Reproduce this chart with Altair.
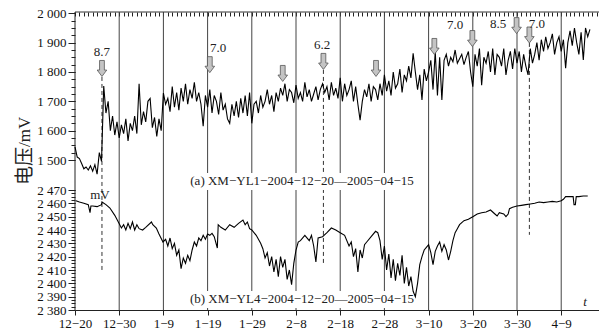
import json
import pandas as pd
import altair as alt

FONT = "Liberation Serif"

# x axis: days since 2004-12-20
tick_days = [0, 10, 20, 30, 40, 50, 60, 70, 80, 90, 100, 110]
tick_labels = ["12−20", "12−30", "1−9", "1−19", "1−29", "2−8", "2−18",
               "2−28", "3−10", "3−20", "3−30", "4−9"]
vline_days = [10, 20, 30, 40, 50, 60, 70, 80, 90, 100, 110]

# (a) XM-YL1, sampled every half day from 12-20
top_vals = [
    1545, 1510, 1505, 1488, 1470, 1476, 1466, 1480, 1462, 1484,
    1452, 1525, 1495, 1752, 1660, 1700, 1600, 1650, 1585, 1630,
    1575, 1620, 1590, 1640, 1565, 1625, 1600, 1650, 1590, 1760,
    1620, 1665, 1630, 1700, 1710, 1610, 1645, 1580, 1640, 1600,
    1728, 1690, 1710, 1665, 1750, 1680, 1730, 1670, 1745, 1700,
    1760, 1690, 1740, 1710, 1765, 1700, 1730, 1690, 1615, 1720,
    1680, 1740, 1660, 1720, 1700, 1655, 1730, 1670, 1690, 1640,
    1625, 1690, 1650, 1700, 1645, 1710, 1660, 1720, 1650, 1730,
    1625, 1690, 1700, 1660, 1720, 1680, 1700, 1740, 1690, 1720,
    1665, 1730, 1700, 1745, 1720, 1760, 1700, 1740, 1730, 1695,
    1755, 1710, 1730, 1700, 1765, 1715, 1740, 1700, 1725, 1750,
    1705, 1740, 1760, 1730, 1750, 1705, 1765, 1720, 1745, 1710,
    1780, 1700, 1760, 1720, 1740, 1770, 1700, 1750, 1690, 1636,
    1700, 1740, 1715, 1760, 1700, 1750, 1740, 1705, 1760, 1720,
    1790, 1735, 1770, 1720, 1800, 1745, 1760, 1810, 1730, 1790,
    1770, 1820, 1780, 1864, 1800, 1740, 1790, 1705, 1810, 1770,
    1800, 1840, 1740, 1870, 1720, 1850, 1705, 1840, 1860, 1820,
    1850, 1835, 1875, 1830, 1845, 1860, 1825, 1850, 1870, 1800,
    1750, 1860, 1820, 1880, 1755, 1850, 1830, 1870, 1800, 1880,
    1790, 1860, 1850, 1820, 1880, 1790, 1840, 1870, 1810, 1880,
    1830, 1870, 1800, 1860, 1820, 1790, 1880, 1830, 1860, 1900,
    1840, 1910, 1870, 1920, 1880, 1900, 1930, 1860, 1900, 1920,
    1870, 1910, 1813, 1900, 1940, 1890, 1950, 1900, 1860, 1935,
    1841, 1950, 1920, 1945,
]
top_days = [i * 0.5 for i in range(len(top_vals))]

# (b) XM-YL4
bottom_days = [
    0.2, 1, 2, 3, 3.4, 3.6, 4, 5, 6, 6.1, 7, 7.9, 9, 9.8, 10.5, 11, 11.5, 12,
    12.5, 13, 13.5, 14, 14.5, 15.3, 16, 17.3, 17.6, 18.4, 19, 19.9, 20.5, 21,
    21.5, 22, 22.5, 23, 23.5, 24, 24.5, 25, 25.5, 26, 26.5, 27, 27.5, 28, 28.5,
    29, 29.5, 30, 30.5, 31, 31.5, 32.2, 32.4, 33, 34, 35, 36, 37, 38, 38.5, 39,
    39.5, 40, 41, 42, 42.5, 43, 43.5, 44, 44.5, 45, 45.5, 46, 46.5, 47, 47.5,
    48, 48.5, 49, 49.5, 50, 50.5, 51, 52, 53, 53.5, 54, 54.5, 55, 56, 57, 58,
    59, 60, 61, 62, 62.5, 63, 63.5, 64, 64.5, 65, 65.5, 66, 67, 68, 68.5, 69,
    69.5, 70, 70.5, 71, 71.5, 72, 72.5, 73, 73.5, 74, 74.5, 75, 75.5, 76,
    76.5, 77, 77.5, 78, 78.5, 79, 79.5, 80, 80.5, 81, 81.5, 82, 82.5, 83,
    83.5, 84, 84.5, 85, 85.5, 86, 86.5, 87, 88, 89, 90, 91, 92, 93, 94, 95,
    95.5, 96, 97, 97.5, 98, 98.3, 99, 100, 101, 102, 103, 104, 105, 106, 107,
    108, 109, 110, 110.5, 111, 112, 112.7, 112.9, 113.2, 113.4, 114, 115, 116,
]
bottom_vals = [
    2462, 2461, 2460, 2459, 2453, 2458, 2458, 2457.5, 2459, 2461, 2459, 2456.5,
    2451, 2446, 2441.5, 2444, 2440, 2445, 2441, 2446, 2440, 2444, 2441, 2440,
    2442, 2446, 2444, 2441.5, 2437, 2431, 2433, 2428, 2434, 2426, 2430, 2421,
    2425, 2411, 2419, 2415, 2421, 2417, 2425, 2431, 2428, 2434, 2432, 2436,
    2433, 2437, 2436, 2437.5, 2435, 2426.5, 2444, 2442, 2440, 2444, 2442, 2445,
    2447.5, 2444, 2446, 2441, 2440, 2436, 2430, 2426, 2419, 2423, 2413, 2420,
    2408.5, 2418, 2405, 2420, 2412, 2418, 2403, 2410, 2399, 2415, 2425, 2431,
    2432, 2436, 2432, 2436, 2428, 2416, 2434, 2435, 2438, 2441.5, 2440, 2438,
    2436, 2428, 2431, 2420, 2426, 2408.5, 2425, 2419, 2429, 2431, 2435, 2439,
    2438, 2432, 2418, 2428, 2410, 2422, 2404, 2418, 2402, 2415, 2406, 2421,
    2400, 2412, 2398, 2405, 2394, 2390, 2400, 2414, 2420, 2425, 2427, 2429,
    2423, 2414, 2424, 2428, 2431, 2424, 2429, 2425, 2417.5, 2424, 2432, 2438,
    2441, 2444, 2447, 2448, 2450, 2452, 2453, 2453.5, 2455, 2452, 2450.5, 2453,
    2452, 2450, 2452, 2456, 2457, 2458, 2458.5, 2459, 2459.5, 2460, 2461,
    2460.5, 2461, 2461.5, 2461, 2462, 2463, 2465, 2465, 2465, 2459, 2459, 2465,
    2465, 2465.5, 2465.5,
]

# earthquake arrows (position in the top panel's units)
arrow_days = [6.1, 30.5, 47.0, 56.2, 68.1, 81.3, 89.9, 99.9, 102.8]
arrow_vals = [1812, 1825, 1795, 1836, 1812, 1887, 1914, 1958, 1926]
mag_text = ["8.7", "7.0", "6.2", "7.0", "8.5", "7.0"]
mag_days = [6.1, 32.4, 55.9, 86.0, 95.7, 104.5]
mag_vals = [1868, 1882, 1892, 1960, 1964, 1964]
dash_days = [6.1, 56.2, 102.8]
dash_from = [1783, 1807, 1899]
dash_to = [1118, 1149, 1245]

W, H = 524, 298
XS = alt.Scale(domain=[0, 118.55], nice=False, zero=False)
TOP = alt.Scale(domain=[1500, 2000], range=[148, 1.3], nice=False, zero=False)
BOT = alt.Scale(domain=[2380, 2470], range=[298, 178], nice=False, zero=False)

ylab = "substring(format(datum.value,'d'),0,1)+' '+substring(format(datum.value,'d'),1)"

x_main = alt.Axis(values=tick_days, labelExpr=f"{json.dumps(tick_labels, ensure_ascii=False)}[round(datum.value/10)]",
                  tickSize=5, labelPadding=2, domain=True, title=None, grid=False,
                  labelFlush=False, labelOverlap=False)
x_minor = alt.Axis(values=list(range(0, 119)), tickSize=4, offset=-4, labels=False,
                   domain=False, title=None, grid=False)
y_top_main = alt.Axis(values=list(range(1500, 2001, 100)), orient="left", tickSize=7,
                      labelPadding=2, domain=False, labelExpr=ylab, title=None, grid=False,
                      labelOverlap=False, labelFlush=False)
y_top_minor = alt.Axis(values=list(range(1500, 2001, 25)), orient="left", tickSize=4,
                       labels=False, domain=False, title=None, grid=False)
y_bot_main = alt.Axis(values=list(range(2380, 2471, 10)), orient="left", tickSize=7,
                      labelPadding=2, domain=False, labelExpr=ylab, title=None, grid=False,
                      labelOverlap=False, labelFlush=False)
y_bot_minor = alt.Axis(values=[2380 + 2.5 * i for i in range(37)], orient="left", tickSize=4,
                       labels=False, domain=False, title=None, grid=False)

one = pd.DataFrame({"a": [0]})
top_df = pd.DataFrame({"d": top_days, "v": top_vals})
bot_df = pd.DataFrame({"d": bottom_days, "v": bottom_vals})

vrules = alt.Chart(pd.DataFrame({"d": vline_days})).mark_rule(color="#444", strokeWidth=1).encode(
    x=alt.X("d:Q", scale=XS, axis=x_main), y=alt.value(0), y2=alt.value(H))

border_top = alt.Chart(one).mark_rule(color="#333", strokeWidth=1).encode(
    x=alt.value(0), x2=alt.value(W), y=alt.value(0))
border_left = alt.Chart(one).mark_rule(color="#222", strokeWidth=1).encode(
    x=alt.value(0), y=alt.value(0), y2=alt.value(H))

dashes = alt.Chart(pd.DataFrame({"d": dash_days, "a": dash_from, "b": dash_to})).mark_rule(
    color="#333", strokeWidth=1, strokeDash=[4, 3]).encode(
    x=alt.X("d:Q", scale=XS, axis=None),
    y=alt.Y("a:Q", scale=TOP, axis=None), y2="b:Q")

box_a = alt.Chart(one).mark_rect(color="white").encode(
    x=alt.value(113), x2=alt.value(339), y=alt.value(161), y2=alt.value(178))
box_b = alt.Chart(one).mark_rect(color="white").encode(
    x=alt.value(113), x2=alt.value(339), y=alt.value(279), y2=alt.value(296))

top_line = alt.Chart(top_df).mark_line(color="black", strokeWidth=1.1).encode(
    x=alt.X("d:Q", scale=XS, axis=x_minor),
    y=alt.Y("v:Q", scale=TOP, axis=y_top_main))
top_minor = alt.Chart(pd.DataFrame({"v": [1600]})).mark_point(opacity=0).encode(
    y=alt.Y("v:Q", scale=TOP, axis=y_top_minor))
bot_line = alt.Chart(bot_df).mark_line(color="black", strokeWidth=1.1).encode(
    x=alt.X("d:Q", scale=XS, axis=None),
    y=alt.Y("v:Q", scale=BOT, axis=y_bot_main))
bot_minor = alt.Chart(pd.DataFrame({"v": [2400]})).mark_point(opacity=0).encode(
    y=alt.Y("v:Q", scale=BOT, axis=y_bot_minor))

ARROW = "M-0.3,-1L0.3,-1L0.3,0.2L0.6,0.2L0,1L-0.6,0.2L-0.3,0.2Z"
arrows = alt.Chart(pd.DataFrame({"d": arrow_days, "v": arrow_vals})).mark_point(
    shape=ARROW, size=256, filled=True, fill="#c4c4c4", stroke="#555", strokeWidth=0.8,
    opacity=1).encode(
    x=alt.X("d:Q", scale=XS, axis=None), y=alt.Y("v:Q", scale=TOP, axis=None))
mags = alt.Chart(pd.DataFrame({"d": mag_days, "v": mag_vals, "t": mag_text})).mark_text(
    font=FONT, fontSize=13, color="#222").encode(
    x=alt.X("d:Q", scale=XS, axis=None), y=alt.Y("v:Q", scale=TOP, axis=None), text="t:N")

lab_a = alt.Chart(one).mark_text(font=FONT, fontSize=13, color="#222",
                                 text="(a) XM−YL1−2004−12−20—2005−04−15").encode(
    x=alt.value(227), y=alt.value(169))
lab_b = alt.Chart(one).mark_text(font=FONT, fontSize=13, color="#222",
                                 text="(b) XM−YL4−2004−12−20—2005−04−15").encode(
    x=alt.value(227), y=alt.value(287))
mv = alt.Chart(one).mark_text(font=FONT, fontSize=13, color="#222", text="mV").encode(
    x=alt.value(25), y=alt.value(183))
tt = alt.Chart(one).mark_text(font=FONT, fontSize=13, fontStyle="italic", color="#222",
                              text="t").encode(x=alt.value(510), y=alt.value(290))
yt1 = alt.Chart(one).mark_text(font="Noto Sans CJK SC", fontSize=19, color="#222",
                               text="电压", angle=270, align="right", baseline="middle").encode(
    x=alt.value(-50), y=alt.value(135))
yt2 = alt.Chart(one).mark_text(font=FONT, fontSize=17, color="#222",
                               text="/mV", angle=270, align="left", baseline="middle").encode(
    x=alt.value(-50), y=alt.value(135))

chart = alt.layer(
    vrules, border_top, border_left, dashes, box_a, box_b,
    top_line, top_minor, bot_line, bot_minor, arrows, mags,
    lab_a, lab_b, mv, tt, yt1, yt2,
).resolve_scale(x="independent", y="independent").properties(
    width=W, height=H, autosize="none",
    padding={"left": 75, "top": 12, "right": 0, "bottom": 25},
).configure_view(stroke=None).configure_axis(
    labelFont=FONT, labelFontSize=13, labelColor="#111", tickColor="#222",
    domainColor="#222", grid=False,
)

chart.save("out.html", embed_options={"renderer": "svg", "actions": False})
